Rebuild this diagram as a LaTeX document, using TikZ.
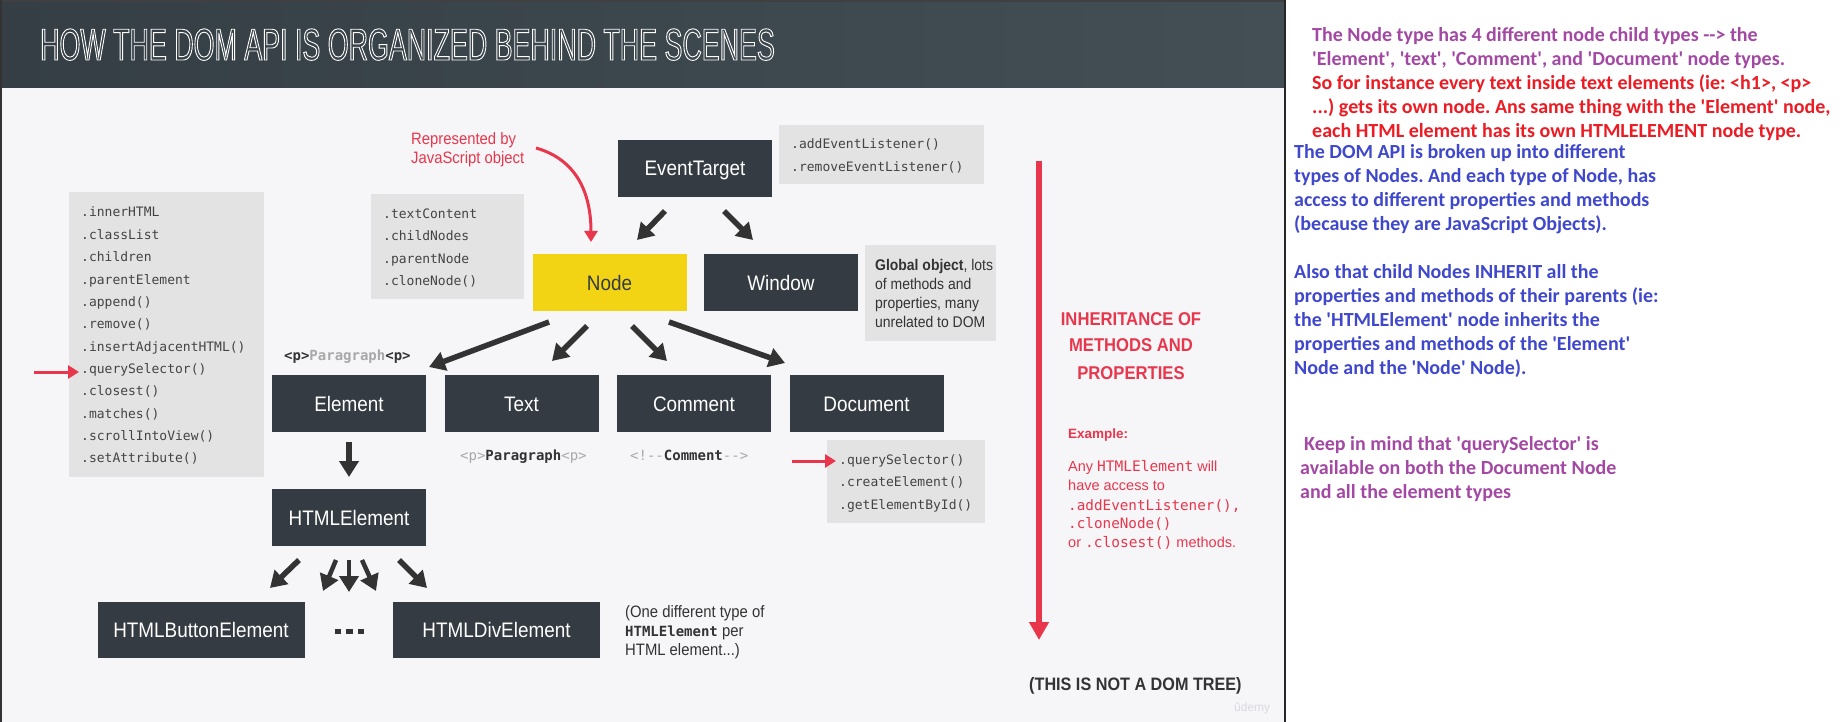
\documentclass[tikz,border=0pt]{standalone}
\usepackage{fontspec}
\usetikzlibrary{arrows.meta}
\frenchspacing
\newfontfamily\condf{Liberation Sans}[FakeStretch=0.9,Ligatures=TeXOff]
\newfontfamily\titlef{Liberation Sans}[FakeStretch=0.6,Ligatures=TeXOff]
\newfontfamily\monof{DejaVu Sans Mono}[Ligatures=TeXOff]
\newfontfamily\calibf{Carlito}[Ligatures=TeXOff]
\newfontfamily\sansf{Liberation Sans}[Ligatures=TeXOff]
\newcommand\outlinetext[1]{\special{pdf:literal direct 1 Tr 0.9 w}#1\special{pdf:literal direct 0 Tr}}
\definecolor{slidebg}{HTML}{F6F5F8}
\definecolor{hdrL}{HTML}{353E45}
\definecolor{hdrR}{HTML}{434E55}
\definecolor{darkbox}{HTML}{343B42}
\definecolor{nodeyellow}{HTML}{F3D414}
\definecolor{graybg}{HTML}{E3E3E3}
\definecolor{redc}{HTML}{E8374D}
\definecolor{txtd}{HTML}{333333}
\definecolor{mtext}{HTML}{444444}
\definecolor{ltgray}{HTML}{A8A8A8}
\definecolor{arrowc}{HTML}{333333}
\definecolor{wm}{HTML}{DADADE}
\definecolor{ppurple}{HTML}{A349A4}
\definecolor{pred}{HTML}{ED1C24}
\definecolor{pblue}{HTML}{3F48CC}
\tikzset{
  dbox/.style={fill=darkbox, text=white, minimum width=154pt, minimum height=57pt, inner sep=0pt,
    font=\condf\fontsize{21}{25}\selectfont, text height=15pt, text depth=0pt},
  ybox/.style={dbox, fill=nodeyellow, text=darkbox},
  gbox/.style={fill=graybg, inner sep=0pt, anchor=north west},
  lbl/.style={anchor=west, inner sep=0pt, text height=#1, text depth=0pt},
  lbl/.default=10pt,
  mtxt/.style={lbl=9.4pt, font=\monof\fontsize{13}{15}\selectfont, text=mtext},
  darrow/.style={draw=arrowc, line width=5.5pt, -{Triangle[length=16pt,width=19pt]}},
  sarrow/.style={darrow, line width=4.5pt},
  rarrow/.style={draw=redc, line width=3pt, -{Triangle[length=11pt,width=13pt]}},
  bigrarrow/.style={draw=redc, line width=5.5pt, -{Triangle[length=18pt,width=19pt]}},
  rpt/.style={lbl=12.9pt, font=\calibf\bfseries\fontsize{20}{24}\selectfont},
  inh/.style={inner sep=0pt, text height=13.3pt, text depth=0pt, text=redc,
    font=\condf\bfseries\fontsize{18.5}{22}\selectfont},
}
\begin{document}
\begin{tikzpicture}[x=1pt,y=-1pt]
\useasboundingbox (0,0) rectangle (1842,722);
% backgrounds
\fill[white] (0,0) rectangle (1842,722);
\fill[slidebg] (0,88) rectangle (1285,722);
\fill[left color=hdrL, right color=hdrR] (0,0) rectangle (1285,88);
\fill[black!75] (0,0) rectangle (1285,2);
\fill[black!80] (0,0) rectangle (2,722);
\fill[black!85] (1284,0) rectangle (1286,722);
\node[lbl=32pt, text=white, font=\titlef\fontsize{44.7}{50}\selectfont] (title) at (40,44)
  {\outlinetext{HOW THE DOM API IS ORGANIZED BEHIND THE SCENES}};

% gray property boxes
\node[gbox, minimum width=195pt, minimum height=285pt] (elprops) at (69,192) {};
\node[gbox, minimum width=153pt, minimum height=105pt] (nodeprops) at (371,194) {};
\node[gbox, minimum width=205pt, minimum height=59pt] (etprops) at (779,125) {};
\node[gbox, minimum width=131pt, minimum height=96pt] (winnote) at (865,245) {};
\node[gbox, minimum width=158pt, minimum height=83pt] (docprops) at (827,440) {};

\foreach \x [count=\i from 0] in {.innerHTML,.classList,.children,.parentElement,.append(),.remove(),.insertAdjacentHTML(),.querySelector(),.closest(),.matches(),.scrollIntoView(),.setAttribute()}
  \node[mtxt] (ep\i) at (81,212.3+22.36*\i) {\x};
\foreach \x [count=\i from 0] in {.textContent,.childNodes,.parentNode,.cloneNode()}
  \node[mtxt] (np\i) at (383,213.7+22.4*\i) {\x};
\foreach \x [count=\i from 0] in {.addEventListener(),.removeEventListener()}
  \node[mtxt] (tp\i) at (791,144+22.7*\i) {\x};
\foreach \x [count=\i from 0] in {.querySelector(),.createElement(),.getElementById()}
  \node[mtxt] (dp\i) at (839,460+22.2*\i) {\x};
\foreach \x [count=\i from 0] in {{{\bfseries Global object}, lots},{of methods and},{properties, many},{unrelated to DOM}}
  \node[lbl=11.2pt, font=\condf\fontsize{15.5}{18}\selectfont, text=txtd] (wn\i) at (875,265+19*\i) {\x};

% main boxes
\node[dbox] (eventtarget) at (695,168.5) {EventTarget};
\node[ybox] (node) at (609.5,282.5) {Node};
\node[dbox] (window) at (781,282.5) {Window};
\node[dbox] (element) at (349,403.5) {Element};
\node[dbox] (text) at (521.5,403.5) {Text};
\node[dbox] (comment) at (694,403.5) {Comment};
\node[dbox] (document) at (866.5,403.5) {Document};
\node[dbox] (htmlelement) at (349,517.5) {HTMLElement};
\node[dbox, minimum width=207pt, minimum height=56pt] (button) at (201,630) {HTMLButtonElement};
\node[dbox, minimum width=207pt, minimum height=56pt] (div) at (496.5,630) {HTMLDivElement};

% small labels
\node[lbl, font=\monof\bfseries\fontsize{14}{16}\selectfont, text=txtd] (plabel1) at (284,355) {<p>\textcolor{ltgray}{Paragraph}<p>};
\node[lbl, font=\monof\bfseries\fontsize{14}{16}\selectfont, text=txtd] (plabel2) at (460,455) {\textcolor{ltgray}{\mdseries <p>}Paragraph\textcolor{ltgray}{\mdseries <p>}};
\node[lbl, font=\monof\bfseries\fontsize{14}{16}\selectfont, text=txtd] (clabel) at (630,455) {\textcolor{ltgray}{\mdseries <!--}Comment\textcolor{ltgray}{\mdseries -->}};
\node[lbl=11.9pt, font=\condf\fontsize{16.5}{19}\selectfont, text=redc] (rep1) at (411,139) {Represented by};
\node[lbl=11.9pt, font=\condf\fontsize{16.5}{19}\selectfont, text=redc] (rep2) at (411,158) {JavaScript object};
\node[lbl=11.9pt, font=\condf\fontsize{16.5}{19}\selectfont, text=txtd] (note1) at (625,612) {(One different type of};
\node[lbl=11.9pt, font=\condf\fontsize{16.5}{19}\selectfont, text=txtd] (note2) at (625,631) {{\monof\bfseries\fontsize{14}{16}\selectfont HTMLElement} per};
\node[lbl=11.9pt, font=\condf\fontsize{16.5}{19}\selectfont, text=txtd] (note3) at (625,650) {HTML element...)};

% dots
\fill[arrowc] (334.5,628.5) rectangle ++(6.5,5.5);
\fill[arrowc] (346,628.5) rectangle ++(6.5,5.5);
\fill[arrowc] (357.5,628.5) rectangle ++(6.5,5.5);

% dark arrows
\coordinate (a1s) at (665,211); \coordinate (a1e) at (637,240);
\coordinate (a2s) at (724,211); \coordinate (a2e) at (753,240);
\coordinate (a3s) at (549,322); \coordinate (a3e) at (429,367);
\coordinate (a4s) at (587,326); \coordinate (a4e) at (552,361);
\coordinate (a5s) at (632,326); \coordinate (a5e) at (667,361);
\coordinate (a6s) at (669,322); \coordinate (a6e) at (785,363);
\coordinate (a7s) at (349,442); \coordinate (a7e) at (349,477);
\coordinate (a8s) at (299,560); \coordinate (a8e) at (270,588);
\coordinate (a9s) at (336,560); \coordinate (a9e) at (323,591);
\coordinate (a10s) at (349,560); \coordinate (a10e) at (349,592);
\coordinate (a11s) at (362,560); \coordinate (a11e) at (376,591);
\coordinate (a12s) at (399,560); \coordinate (a12e) at (427,588);
\foreach \k in {1,...,8,12} \draw[darrow] (a\k s) -- (a\k e);
\foreach \k in {9,10,11} \draw[sarrow] (a\k s) -- (a\k e);

% red arrows
\coordinate (cs) at (536,148); \coordinate (ce) at (591,242);
\draw[rarrow] (cs) .. controls (578,160) and (591,195) .. (ce);
\coordinate (ls) at (34,372); \coordinate (le) at (79,372);
\draw[rarrow] (ls) -- (le);
\coordinate (ds) at (792,461); \coordinate (de) at (836,461);
\draw[rarrow] (ds) -- (de);
\coordinate (inhs) at (1039,161); \coordinate (inhe) at (1039,640);
\draw[bigrarrow] (inhs) -- (inhe);

% inheritance text
\node[inh] (inh1) at (1131,319) {INHERITANCE OF};
\node[inh] (inh2) at (1131,345) {METHODS AND};
\node[inh] (inh3) at (1131,373) {PROPERTIES};
\node[lbl=9.7pt, font=\sansf\bfseries\fontsize{13.5}{16}\selectfont, text=redc] (ex) at (1068,434) {Example:};
\node[lbl=10.4pt, font=\sansf\fontsize{14.5}{17}\selectfont, text=redc] (ex1) at (1068,466) {Any {\monof HTMLElement} will};
\node[lbl=10.4pt, font=\sansf\fontsize{14.5}{17}\selectfont, text=redc] (ex2) at (1068,485) {have access to};
\node[lbl=10.3pt, font=\monof\fontsize{14.3}{17}\selectfont, text=redc] (ex3) at (1068,505) {.addEventListener(),};
\node[lbl=10.3pt, font=\monof\fontsize{14.3}{17}\selectfont, text=redc] (ex4) at (1068,523) {.cloneNode()};
\node[lbl=10.4pt, font=\sansf\fontsize{14.5}{17}\selectfont, text=redc] (ex5) at (1068,542) {or {\monof .closest()} methods.};
\node[lbl=13pt, font=\condf\bfseries\fontsize{18}{22}\selectfont, text=txtd] (notdom) at (1029,684) {(THIS IS NOT A DOM TREE)};
\node[lbl=8.6pt, font=\sansf\fontsize{12}{14}\selectfont, text=wm] (udemy) at (1234,707) {ûdemy};

% right panel notes
\node[rpt, text=ppurple] (rp1) at (1312,35) {The Node type has 4 different node child types --> the};
\node[rpt, text=ppurple] (rp2) at (1312,59) {'Element', 'text', 'Comment', and 'Document' node types.};
\node[rpt, text=pred] (rp3) at (1312,83) {So for instance every text inside text elements (ie: <h1>, <p>};
\node[rpt, text=pred] (rp4) at (1312,107) {...) gets its own node. Ans same thing with the 'Element' node,};
\node[rpt, text=pred] (rp5) at (1312,131) {each HTML element has its own HTMLELEMENT node type.};
\node[rpt, text=pblue] (rp6) at (1294,152) {The DOM API is broken up into different};
\node[rpt, text=pblue] (rp7) at (1294,176) {types of Nodes. And each type of Node, has};
\node[rpt, text=pblue] (rp8) at (1294,200) {access to different properties and methods};
\node[rpt, text=pblue] (rp9) at (1294,224) {(because they are JavaScript Objects).};
\node[rpt, text=pblue] (rp10) at (1294,272) {Also that child Nodes INHERIT all the};
\node[rpt, text=pblue] (rp11) at (1294,296) {properties and methods of their parents (ie:};
\node[rpt, text=pblue] (rp12) at (1294,320) {the 'HTMLElement' node inherits the};
\node[rpt, text=pblue] (rp13) at (1294,344) {properties and methods of the 'Element'};
\node[rpt, text=pblue] (rp14) at (1294,368) {Node and the 'Node' Node).};
\node[rpt, text=ppurple] (rp15) at (1304,444) {Keep in mind that 'querySelector' is};
\node[rpt, text=ppurple] (rp16) at (1300,468) {available on both the Document Node};
\node[rpt, text=ppurple] (rp17) at (1300,492) {and all the element types};
\end{tikzpicture}
\end{document}
